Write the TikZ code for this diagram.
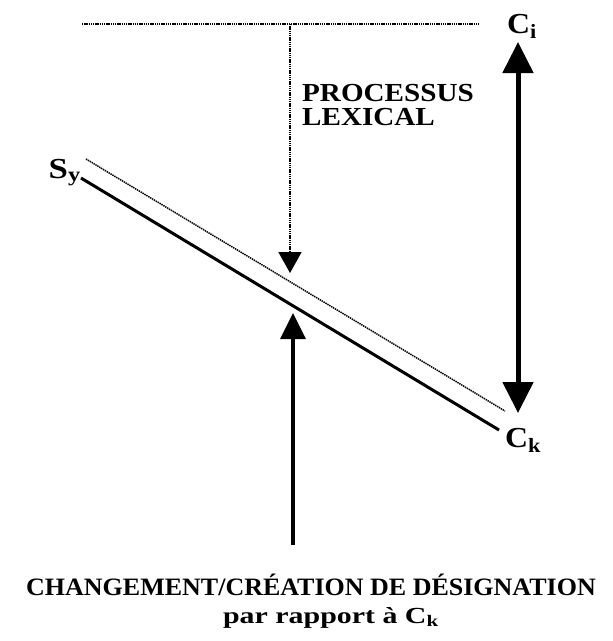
\documentclass[tikz,border=0pt]{standalone}
\usepackage{fontspec}
\setmainfont{Liberation Serif}
\usetikzlibrary{arrows.meta}
\begin{document}
\begin{tikzpicture}[x=1pt,y=-1pt,
  lbl/.style={inner sep=0pt,font=\bfseries\fontsize{29}{29}\selectfont},
  txt/.style={inner sep=0pt,font=\bfseries\fontsize{26}{22}\selectfont},
  bot/.style={inner sep=0pt,font=\bfseries\fontsize{25}{22}\selectfont},
  bottwo/.style={inner sep=0pt,font=\bfseries\fontsize{23}{22}\selectfont},
  dotline/.style={line width=1.5pt,dash pattern=on 1.4pt off 0.8pt},
  thick line/.style={line width=3pt}]
\useasboundingbox (0,0) rectangle (613,641);
% labels
\node[lbl,anchor=base west] (Ci) at (507,33) {\scalebox{1.1}[1]{C\textsubscript{i}}};
\node[lbl,anchor=base west] (Ck) at (505,447) {\scalebox{1.1}[1]{C\textsubscript{k}}};
\node[lbl,anchor=base east] (Sy) at (81,178) {\scalebox{1.2}[1]{S\textsubscript{y}}};
\node[txt,anchor=base west] (proc) at (302,125) {\scalebox{1.12}[1]{\begin{tabular}[b]{@{}l@{}}PROCESSUS\\LEXICAL\end{tabular}}};
\node[bot,anchor=base,text depth=0pt] (chg) at (311,595) {\scalebox{1.04}[1]{CHANGEMENT/CRÉATION DE DÉSIGNATION}};
\node[bottwo,anchor=base,text height=13pt] (par) at (331,623) {\scalebox{1.3}[1]{par rapport à C\textsubscript{k}}};
% coordinates
\coordinate (topL) at (82,24);
\coordinate (topR) at (480,24);
\coordinate (topM) at (290,24);
\coordinate (tipDown) at (290,273);
\coordinate (dotA) at (86,159);
\coordinate (dotB) at (505,411);
\coordinate (solA) at (81,178);
\coordinate (solB) at (499,430);
\coordinate (botS) at (293,545);
\coordinate (tipUp) at (293,313);
\coordinate (dblT) at (518,42);
\coordinate (dblB) at (518,413);
% lines
\draw[dotline] (topL) -- (topR);
\draw[dotline,-{Triangle[length=21pt,width=23pt]}] (topM) -- (tipDown);
\draw[dotline] (dotA) -- (dotB);
\draw[thick line] (solA) -- (solB);
\draw[line width=3.5pt,-{Triangle[length=26pt,width=25pt]}] (botS) -- (tipUp);
\draw[line width=5pt,{Triangle[length=31pt,width=30pt]}-{Triangle[length=31pt,width=30pt]}] (dblT) -- (dblB);
\end{tikzpicture}
\end{document}
